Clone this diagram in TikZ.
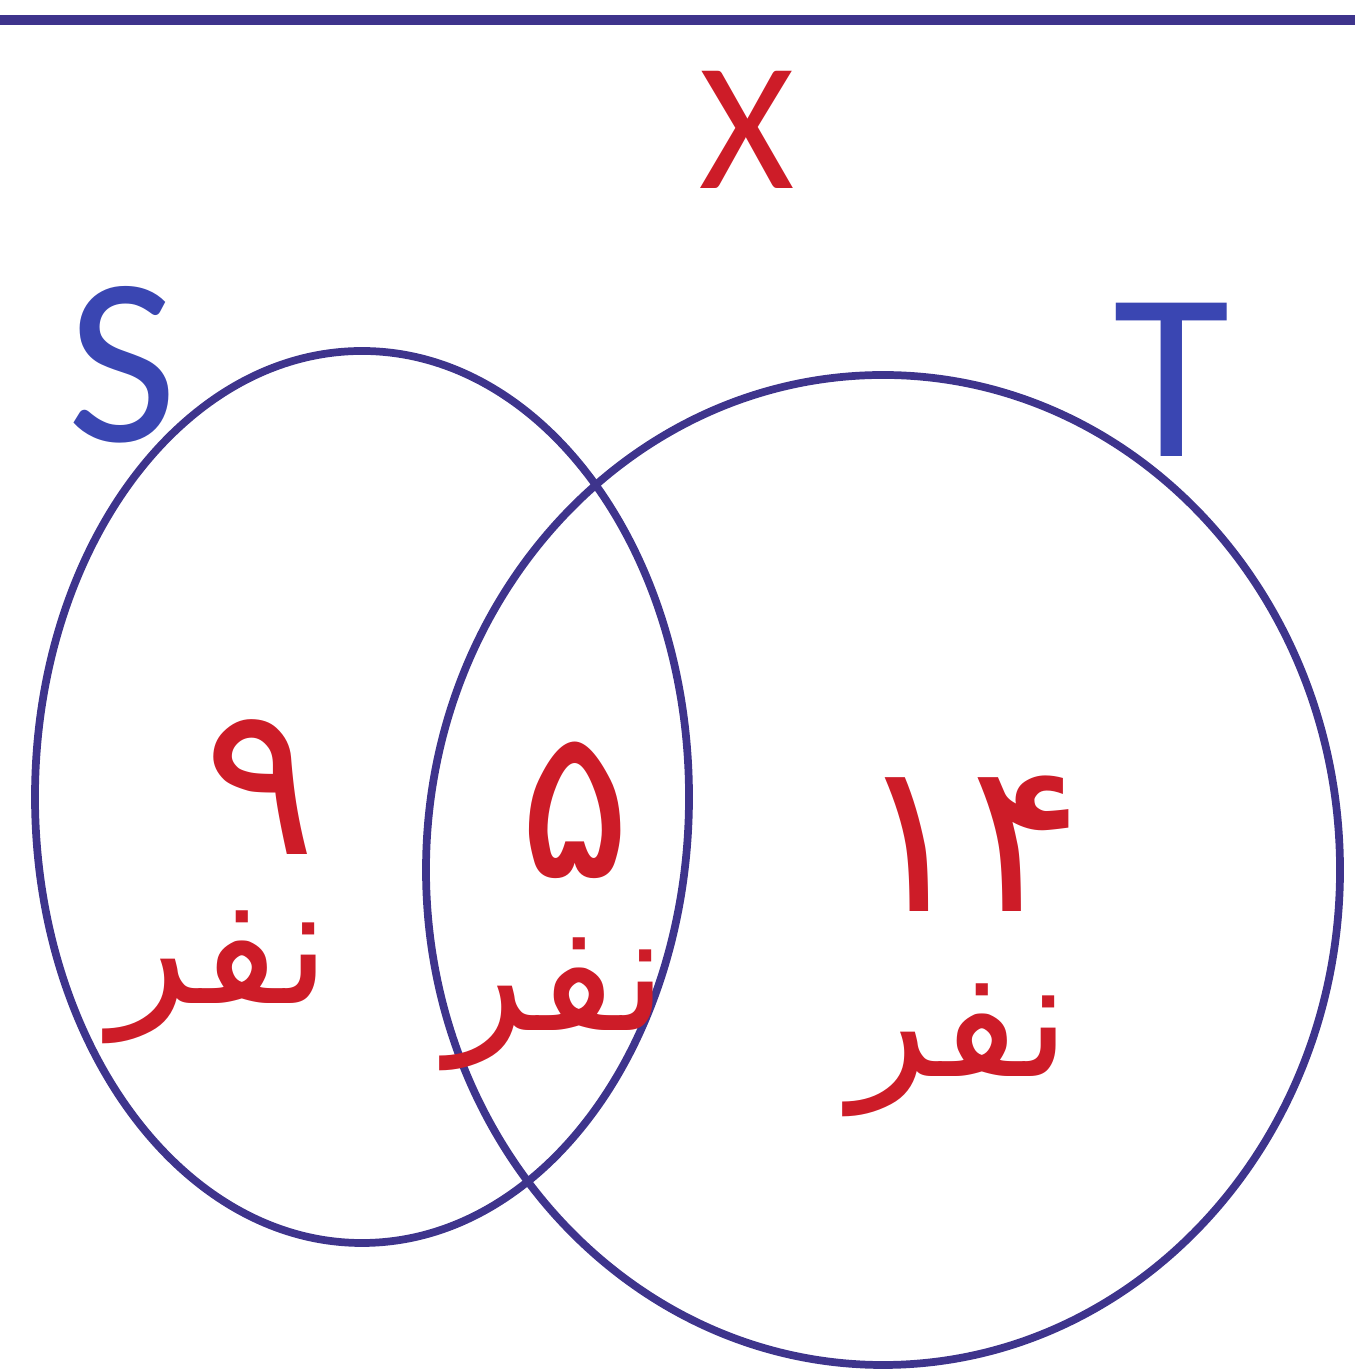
\documentclass[tikz,border=0pt]{standalone}
\usepackage{fontspec}
\setmainfont{Carlito}
\newfontfamily\arabicfont[Script=Arabic]{DejaVu Sans}
\TeXXeTstate=1
\usepackage{xcolor}
\definecolor{setblue}{RGB}{62,52,140}
\definecolor{letterblue}{RGB}{58,70,178}
\definecolor{numred}{RGB}{205,28,40}
\usepackage{tikz}

\begin{document}
\begin{tikzpicture}[
    setline/.style={draw=setblue, line width=2.2pt},
    setname/.style={text=letterblue, font=\fontsize{68}{70}\selectfont},
    cnt/.style={text=numred, inner sep=0pt, font=\arabicfont\fontsize{60}{60}\selectfont},
    ppl/.style={text=numred, inner sep=0pt, font=\arabicfont\fontsize{47}{50}\selectfont},
  ]
    \useasboundingbox (0,0) rectangle (13.55,13.72);

    % universe
    \draw[setblue, line width=3pt] (0,13.52) -- (13.55,13.52);
    \node[text=numred, font=\fontsize{52}{54}\selectfont] (univ) at (7.47,12.42) {X};

    % the two sets
    \draw[setline] (3.62,5.75) ellipse [x radius=3.27, y radius=4.46];
    \draw[setline] (8.83,5.02) ellipse [x radius=4.57, y radius=4.95];
    \node[setname] (sname) at (1.22,10.07) {S};
    \node[setname] (tname) at (11.72,9.92) {T};

    % counts
    \node[cnt] (n9)  at (2.60,5.85) {\beginR ۹\endR};
    \node[cnt] (n5)  at (5.75,5.62) {\beginR ۵\endR};
    \node[cnt] (n14) at (9.70,5.28) {\beginR ۱۴\endR};
    \node[ppl] (p9)  at (2.20,3.95) {\beginR نفر\endR};
    \node[ppl] (p5)  at (5.57,3.68) {\beginR نفر\endR};
    \node[ppl] (p14) at (9.60,3.22) {\beginR نفر\endR};
\end{tikzpicture}
\end{document}
